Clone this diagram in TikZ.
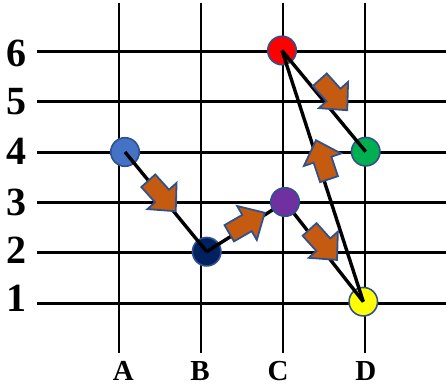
\documentclass[tikz,border=0pt]{standalone}
\usepackage{fontspec}
\setmainfont{Liberation Serif}
\pgfdeclarelayer{front}
\pgfsetlayers{main,front}
\definecolor{pblue}{RGB}{68,114,196}
\definecolor{pnavy}{RGB}{0,32,96}
\definecolor{ppurple}{RGB}{112,48,160}
\definecolor{pgreen}{RGB}{0,176,80}
\definecolor{pyellow}{RGB}{255,255,0}
\definecolor{pred}{RGB}{255,0,0}
\definecolor{edgeblue}{RGB}{47,82,143}
\definecolor{arrowfill}{RGB}{197,90,17}
\begin{document}
\begin{tikzpicture}[x=1pt,y=-1pt,
  gridline/.style={line width=2.5pt, black},
  conn/.style={line width=3.4pt, black},
  dot/.style={circle, draw=edgeblue, line width=1.6pt, minimum size=28.5pt, inner sep=0pt},
  ylab/.style={font=\bfseries\fontsize{40}{40}\selectfont, anchor=base, inner sep=0pt},
  xlab/.style={font=\bfseries\fontsize{29}{29}\selectfont, anchor=base, inner sep=0pt},
  blockarrow/.style={fill=arrowfill, draw=edgeblue, line width=1.8pt, line join=miter},
  barrow/.pic={\path[blockarrow] (-20.5,-9.4) -- (0,-9.4) -- (0,-19.6) -- (20.5,0) -- (0,19.6) -- (0,9.4) -- (-20.5,9.4) -- cycle;}
]
\useasboundingbox (0,0) rectangle (446,390);
% grid
\foreach \x in {119,201,283,365} \draw[gridline] (\x,2.7) -- (\x,353.3);
\foreach \y in {51.7,101.7,152.7,202.7,252.7,303.3} \draw[gridline] (37,\y) -- (446,\y);
% labels
\node[ylab] (l6) at (16.3,66.7) {6};
\node[ylab] (l5) at (16.3,115) {5};
\node[ylab] (l4) at (16.3,164.3) {4};
\node[ylab] (l3) at (16.3,215) {3};
\node[ylab] (l2) at (16.3,263.3) {2};
\node[ylab] (l1) at (16.3,311.7) {1};
\node[xlab] (lA) at (123.3,380) {A};
\node[xlab] (lB) at (200,380) {B};
\node[xlab] (lC) at (278,380) {C};
\node[xlab] (lD) at (365.8,380) {D};
% points
\node[dot, fill=pblue] (a4) at (125,152) {};
\node[dot, fill=pnavy] (b2) at (206.7,251.7) {};
\node[dot, fill=pred] (c6) at (282,50.5) {};
\node[dot, fill=pgreen] (d4) at (365.7,151.7) {};
\node[dot, fill=pyellow] (d1) at (363.3,301.7) {};
\begin{pgfonlayer}{front}
\node[dot, fill=ppurple] (c3) at (285,202) {};
\end{pgfonlayer}
% connectors
\draw[conn] (a4.center) -- (b2.center);
\draw[conn] (b2.center) -- (c3.center);
\draw[conn] (c3.center) -- (d1.center);
\draw[conn] (d1.center) -- (c6.center);
\draw[conn] (c6.center) -- (d4.center);
% block arrows
\begin{pgfonlayer}{front}
\pic[rotate=-48] at (162,196) {barrow};
\pic[rotate=30] at (247,223) {barrow};
\pic[rotate=-48] at (323.3,244.7) {barrow};
\pic[rotate=108.5] at (322.5,159.7) {barrow};
\pic[rotate=-48] at (333.5,95) {barrow};
\end{pgfonlayer}
\end{tikzpicture}
\end{document}
